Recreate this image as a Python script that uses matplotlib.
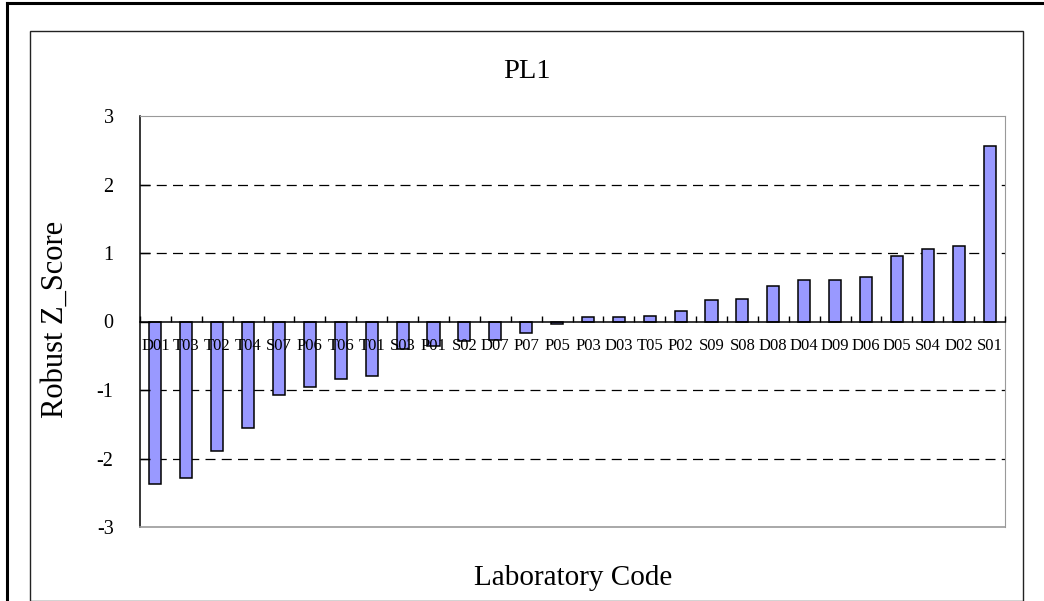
import matplotlib.pyplot as plt
import numpy as np
from matplotlib.lines import Line2D
from matplotlib.patches import Rectangle

# --- Data (Robust Z-score per laboratory, sorted) ---
labs = ["D01", "T03", "T02", "T04", "S07", "P06", "T06", "T01", "S03", "P01",
        "S02", "D07", "P07", "P05", "P03", "D03", "T05", "P02", "S09", "S08",
        "D08", "D04", "D09", "D06", "D05", "S04", "D02", "S01"]
zscore = [-2.37, -2.29, -1.89, -1.55, -1.08, -0.95, -0.84, -0.80, -0.40, -0.36,
          -0.29, -0.27, -0.17, -0.04, 0.06, 0.06, 0.08, 0.16, 0.31, 0.33,
          0.52, 0.60, 0.60, 0.65, 0.95, 1.06, 1.10, 2.56]
yticks = [-3, -2, -1, 0, 1, 2, 3]
gridlevels = [-2, -1, 1, 2]

serif = ["Liberation Serif", "DejaVu Serif"]
plt.rcParams["font.family"] = serif

W, H = 1044, 601
fig = plt.figure(figsize=(W / 100, H / 100), dpi=100)
fig.patch.set_facecolor("white")

# outer frame lines + chart area border (pixel coords -> figure fraction)
def fx(px):
    return px / W

def fy(py):
    return 1 - py / H

fig.add_artist(Line2D([fx(7), 1], [fy(3), fy(3)], color="black", lw=2.2))
fig.add_artist(Line2D([fx(7), fx(7)], [0, fy(3)], color="black", lw=2.2))
fig.add_artist(Rectangle((fx(30), 0), fx(1023) - fx(30), fy(31), fill=False,
                         edgecolor="#222222", lw=1.0, transform=fig.transFigure))

ax = fig.add_axes([fx(140), fy(527), fx(1005) - fx(140), fy(116) - fy(527)])
ax.set_axisbelow(False)  # category labels drawn over the bars
x = np.arange(len(labs))

for lv in gridlevels:
    ax.axhline(lv, color="black", lw=0.9, ls=(0, (8, 5)), zorder=1)

ax.bar(x, zscore, width=0.39, color="#9999FF", edgecolor="black", linewidth=1.1,
       zorder=2)

ax.set_xlim(-0.5, len(labs) - 0.5)
ax.set_ylim(-3, 3)
ax.set_yticks(yticks)
ax.set_yticklabels([str(v) for v in yticks], fontsize=14.5)
ax.tick_params(axis="y", direction="in", length=7, width=1, pad=19,
               colors="black")
# no tick marks on the grey top/bottom edges
ymaj = ax.yaxis.get_major_ticks()
ymaj[0].tick1line.set_visible(False)
ymaj[-1].tick1line.set_visible(False)

# x axis on the zero line, ticks between categories
ax.spines["bottom"].set_position(("data", 0))
ax.set_xticks(x)
ax.set_xticklabels(labs, fontsize=12)
ax.set_xticks(np.arange(len(labs) + 1) - 0.5, minor=True)
ax.tick_params(axis="x", which="major", length=0, pad=12)
ax.tick_params(axis="x", which="minor", direction="in", length=4, width=1)

for side in ["top", "right"]:
    ax.spines[side].set_color("#999999")
ax.spines["left"].set_color("black")
ax.spines["left"].set_linewidth(1.1)
ax.spines["bottom"].set_linewidth(1.1)
# grey frame at the bottom of the plot area
ax.plot([0, 1], [0, 0], transform=ax.transAxes, color="#999999", lw=1.2,
        clip_on=False, zorder=5)

fig.text(fx(527), fy(71), "PL1", ha="center", va="center", fontsize=20.5)
fig.text(fx(573), fy(578), "Laboratory Code", ha="center", va="center",
         fontsize=21)
fig.text(fx(55), fy(319), "Robust Z_Score", ha="center", va="center",
         fontsize=22, rotation=90)

fig.savefig("out.png", dpi=100, facecolor="white")
